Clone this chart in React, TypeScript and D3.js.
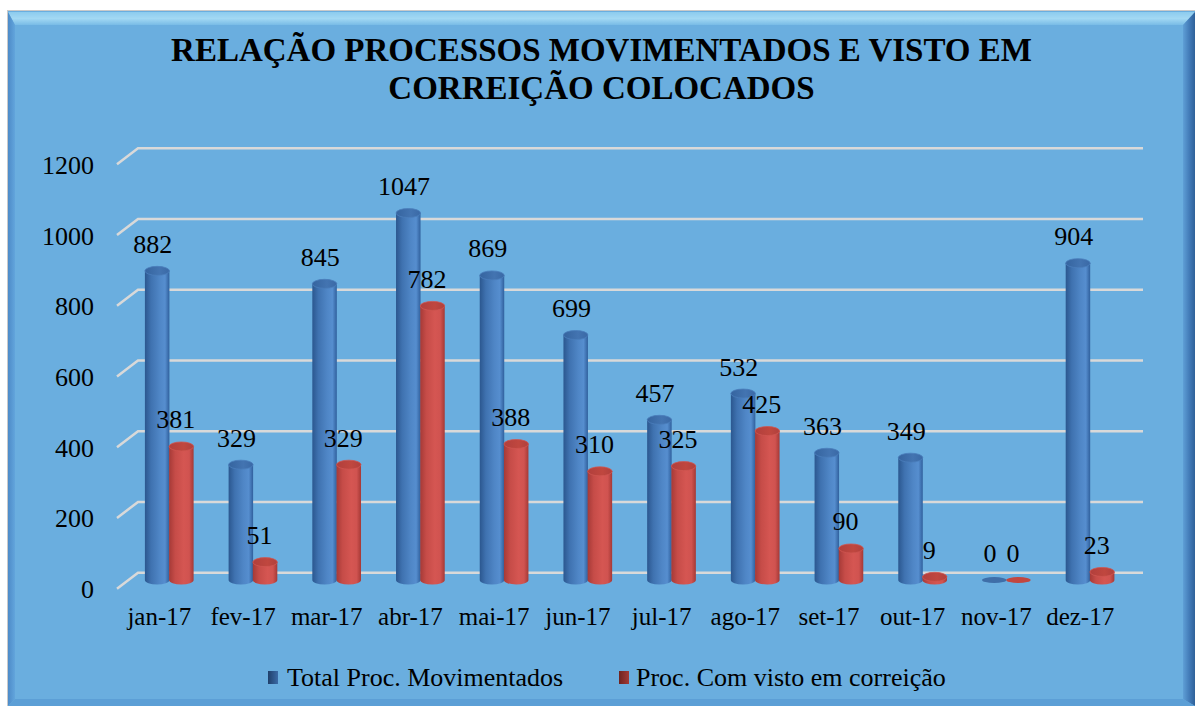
import React from 'react';
import * as d3 from 'd3';

const categories = ['jan-17','fev-17','mar-17','abr-17','mai-17','jun-17','jul-17','ago-17','set-17','out-17','nov-17','dez-17'];
const totalMov = [882, 329, 845, 1047, 869, 699, 457, 532, 363, 349, 0, 904];
const comVisto = [381, 51, 329, 782, 388, 310, 325, 425, 90, 9, 0, 23];
const yTicks = [0, 200, 400, 600, 800, 1000, 1200];
const seriesNames = ['Total Proc. Movimentados', 'Proc. Com visto em correição'];
const titleLines = ['RELAÇÃO PROCESSOS MOVIMENTADOS E VISTO EM', 'CORREIÇÃO COLOCADOS'];

const W = 1195, H = 706;
const FONT = '"Liberation Serif", "Times New Roman", serif';

export default function App() {
  const x = d3.scaleBand<string>().domain(categories).range([127.5, 1132]).paddingInner(0).paddingOuter(0);
  const yBar = d3.scaleLinear().domain([0, 1200]).range([580, 159.4]);
  const yWall = d3.scaleLinear().domain([0, 1200]).range([572.7, 148.3]);
  const bw = 24.5;
  const rx = bw / 2;
  const ry = 4.5;
  const gc = (c: string) => (x(c) as number) + x.bandwidth() / 2;

  const cyl = (cx: number, v: number, kind: 'b' | 'r', key: string) => {
    const base = yBar(0);
    const top = yBar(v);
    const x0 = cx - rx, x1 = cx + rx;
    if (v === 0) {
      return (
        <ellipse key={key} cx={cx} cy={base} rx={rx} ry={ry - 1.5} fill={kind === 'b' ? '#3f6ea8' : '#c2463f'} />
      );
    }
    const body = `M${x0},${top} L${x0},${base} A${rx},${ry} 0 0 0 ${x1},${base} L${x1},${top} Z`;
    return (
      <g key={key}>
        <path d={body} fill={`url(#body-${kind})`} />
        <ellipse cx={cx} cy={top} rx={rx} ry={ry} fill={`url(#top-${kind})`} stroke={kind === 'b' ? '#4a7dbb' : '#cf5551'} strokeWidth={0.8} />
      </g>
    );
  };

  return (
    <svg width={W} height={H} style={{ position: 'absolute', left: 0, top: 0 }} fontFamily={FONT}>
      <defs>
        <linearGradient id="body-b" x1="0" x2="1" y1="0" y2="0">
          <stop offset="0" stopColor="#2b578f" />
          <stop offset="0.25" stopColor="#3f72b0" />
          <stop offset="0.6" stopColor="#4f86c6" />
          <stop offset="0.82" stopColor="#568ecf" />
          <stop offset="1" stopColor="#30609d" />
        </linearGradient>
        <linearGradient id="top-b" x1="0" x2="1" y1="0" y2="0">
          <stop offset="0" stopColor="#35649f" />
          <stop offset="0.6" stopColor="#4374b1" />
          <stop offset="1" stopColor="#3a69a6" />
        </linearGradient>
        <linearGradient id="body-r" x1="0" x2="1" y1="0" y2="0">
          <stop offset="0" stopColor="#a63a37" />
          <stop offset="0.25" stopColor="#c64c48" />
          <stop offset="0.6" stopColor="#d55652" />
          <stop offset="0.82" stopColor="#d05350" />
          <stop offset="1" stopColor="#a53936" />
        </linearGradient>
        <linearGradient id="top-r" x1="0" x2="1" y1="0" y2="0">
          <stop offset="0" stopColor="#b13f3c" />
          <stop offset="0.6" stopColor="#c0473f" />
          <stop offset="1" stopColor="#b0403d" />
        </linearGradient>
        <linearGradient id="bevel-top" x1="0" x2="0" y1="0" y2="1">
          <stop offset="0" stopColor="#8ccbee" />
          <stop offset="0.5" stopColor="#a2d8f3" />
          <stop offset="1" stopColor="#78bbe6" />
        </linearGradient>
        <linearGradient id="bevel-right" x1="0" x2="1" y1="0" y2="0">
          <stop offset="0" stopColor="#5f9fd6" />
          <stop offset="0.6" stopColor="#3f77b4" />
          <stop offset="1" stopColor="#2f6199" />
        </linearGradient>
        <linearGradient id="bevel-left" x1="0" x2="1" y1="0" y2="0">
          <stop offset="0" stopColor="#4d8bc8" />
          <stop offset="1" stopColor="#62a5dc" />
        </linearGradient>
        <linearGradient id="leg-b" x1="0" x2="1" y1="0" y2="0">
          <stop offset="0" stopColor="#1f3f6a" />
          <stop offset="1" stopColor="#3b6aa6" />
        </linearGradient>
        <linearGradient id="leg-r" x1="0" x2="1" y1="0" y2="0">
          <stop offset="0" stopColor="#6e2320" />
          <stop offset="1" stopColor="#a23a36" />
        </linearGradient>
      </defs>

      <rect x={0} y={0} width={W} height={H} fill="#ffffff" />
      <rect x={7.5} y={10.5} width={W} height={H} fill="#6aaedf" stroke="#c9c9c9" strokeWidth={1} />
      <polygon points="8,12 1195,12 1183,25 15,25" fill="url(#bevel-top)" />
      <polygon points="8,12 15,25 15,699 8,706" fill="url(#bevel-left)" />
      <polygon points="1195,12 1183,25 1183,699 1195,706" fill="url(#bevel-right)" />
      <polygon points="15,699 1183,699 1195,706 8,706" fill="#5c9fd6" />

      {titleLines.map((t, i) => (
        <text key={t} x={601.5} y={61 + i * 38} textAnchor="middle" fontSize={33} fontWeight="bold" fill="#000">{t}</text>
      ))}

      {yTicks.map(t => (
        <g key={t}>
          <polyline points={`117,${yWall(t) + 16} 138,${yWall(t)} 1143,${yWall(t)}`} fill="none" stroke="#d9d9d9" strokeWidth={2.5} />
          <text x={94} y={yWall(t) + 25.5} textAnchor="end" fontSize={26} fill="#000">{t}</text>
        </g>
      ))}

      {categories.map((c, i) => (
        <g key={c}>
          {cyl(gc(c) - 12.2, totalMov[i], 'b', 'b' + c)}
          {cyl(gc(c) + 12, comVisto[i], 'r', 'r' + c)}
        </g>
      ))}

      {categories.map((c, i) => (
        <g key={'lab' + c}>
          <text x={gc(c) - 16.5} y={yBar(totalMov[i]) - 18} textAnchor="middle" fontSize={26} fill="#000">{totalMov[i]}</text>
          <text x={gc(c) + 6.5} y={yBar(comVisto[i]) - 18} textAnchor="middle" fontSize={26} fill="#000">{comVisto[i]}</text>
          <text x={gc(c) - 10} y={625} textAnchor="middle" fontSize={25} fill="#000">{c}</text>
        </g>
      ))}

      <rect x={268} y={671} width={10} height={13} fill="url(#leg-b)" />
      <text x={287} y={686} fontSize={26} fill="#000">{seriesNames[0]}</text>
      <rect x={619} y={671} width={10} height={13} fill="url(#leg-r)" />
      <text x={636} y={686} fontSize={26} fill="#000">{seriesNames[1]}</text>
    </svg>
  );
}
